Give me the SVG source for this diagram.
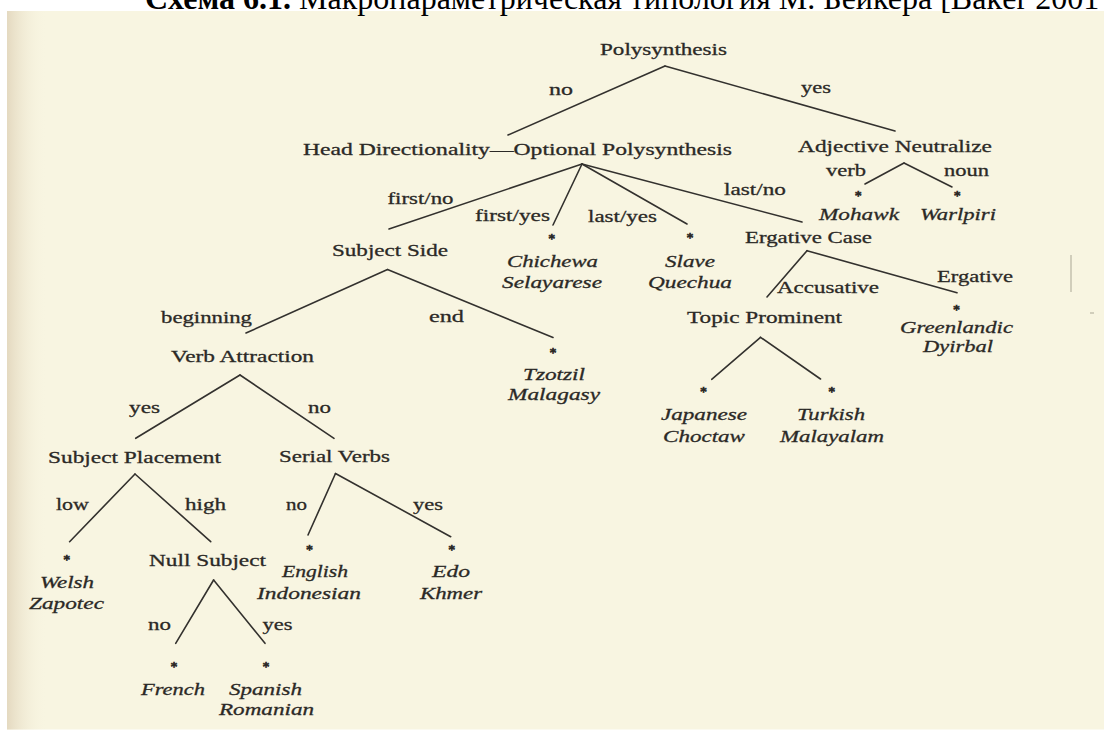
<svg xmlns="http://www.w3.org/2000/svg" width="1104" height="731" viewBox="0 0 1104 731">
<defs>
<linearGradient id="edge" x1="0" y1="0" x2="1" y2="0">
<stop offset="0" stop-color="#E4D9C0"/>
<stop offset="1" stop-color="#F8F5E1" stop-opacity="0"/>
</linearGradient>
<style>
.t{font-family:"Liberation Serif","Times New Roman",serif;font-size:17.5px;fill:#2b2926;stroke:#2b2926;stroke-width:0.3}
.i{font-style:italic}
.a{font-family:"Liberation Serif","Times New Roman",serif;font-size:14px;fill:#2b2926;stroke:#2b2926;stroke-width:0.7;text-anchor:middle}
.c{font-family:"Liberation Serif","Times New Roman",serif;font-size:32px;fill:#000}
#connectors line{stroke:#33312e;stroke-width:1.6;stroke-linecap:round}
</style>
</defs>
<rect width="1104" height="731" fill="#ffffff"/>
<rect x="7" y="11" width="1097" height="718.5" fill="#F8F5E1"/>
<rect x="7" y="11" width="40" height="718.5" fill="url(#edge)"/>
<line x1="1071" y1="255" x2="1071" y2="292" stroke="#C4C0AE" stroke-width="1.5"/>
<line x1="1090" y1="313" x2="1094" y2="313" stroke="#C4C0AE" stroke-width="1.5"/>
<text class="c" x="145" y="9"><tspan font-weight="bold">Схема 6.1.</tspan> Макропараметрическая типология М. Бейкера [Baker 2001</text>

<g id="connectors">
<line x1="665" y1="66" x2="508" y2="135"/>
<line x1="665" y1="66" x2="895" y2="131"/>
<line x1="582" y1="164" x2="389" y2="229"/>
<line x1="582" y1="164" x2="553" y2="225"/>
<line x1="582" y1="164" x2="687" y2="224"/>
<line x1="582" y1="164" x2="802" y2="222"/>
<line x1="904" y1="163" x2="865" y2="184"/>
<line x1="904" y1="163" x2="952" y2="187"/>
<line x1="387.5" y1="269.5" x2="246" y2="333"/>
<line x1="387.5" y1="269.5" x2="553" y2="337.5"/>
<line x1="807" y1="250.7" x2="767" y2="297"/>
<line x1="807" y1="250.7" x2="957" y2="292.7"/>
<line x1="760.5" y1="337.3" x2="711.7" y2="379.3"/>
<line x1="760.5" y1="337.3" x2="820.5" y2="379"/>
<line x1="240" y1="375" x2="135.7" y2="438.3"/>
<line x1="240" y1="375" x2="334" y2="438.3"/>
<line x1="135" y1="474" x2="69.6" y2="541.7"/>
<line x1="135" y1="474" x2="210.7" y2="541.7"/>
<line x1="335.5" y1="473.5" x2="308" y2="535"/>
<line x1="335.5" y1="473.5" x2="450.7" y2="536.7"/>
<line x1="213.6" y1="580" x2="175.7" y2="643.3"/>
<line x1="213.6" y1="580" x2="265" y2="643.3"/>
</g>

<g id="edge-labels">
<text class="t" x="549" y="95" textLength="24" lengthAdjust="spacingAndGlyphs">no</text>
<text class="t" x="801" y="93.3" textLength="30" lengthAdjust="spacingAndGlyphs">yes</text>
<text class="t" x="387.5" y="203.5" textLength="66" lengthAdjust="spacingAndGlyphs">first/no</text>
<text class="t" x="475" y="221" textLength="75" lengthAdjust="spacingAndGlyphs">first/yes</text>
<text class="t" x="588" y="221.7" textLength="69" lengthAdjust="spacingAndGlyphs">last/yes</text>
<text class="t" x="724" y="195" textLength="62" lengthAdjust="spacingAndGlyphs">last/no</text>
<text class="t" x="826" y="176" textLength="40" lengthAdjust="spacingAndGlyphs">verb</text>
<text class="t" x="944" y="176" textLength="45" lengthAdjust="spacingAndGlyphs">noun</text>
<text class="t" x="161" y="323.3" textLength="91" lengthAdjust="spacingAndGlyphs">beginning</text>
<text class="t" x="429" y="321.7" textLength="35" lengthAdjust="spacingAndGlyphs">end</text>
<text class="t" x="777" y="293.3" textLength="102" lengthAdjust="spacingAndGlyphs">Accusative</text>
<text class="t" x="937" y="281.7" textLength="76" lengthAdjust="spacingAndGlyphs">Ergative</text>
<text class="t" x="129" y="413.3" textLength="31" lengthAdjust="spacingAndGlyphs">yes</text>
<text class="t" x="308" y="413.3" textLength="23" lengthAdjust="spacingAndGlyphs">no</text>
<text class="t" x="56" y="510" textLength="33" lengthAdjust="spacingAndGlyphs">low</text>
<text class="t" x="185" y="510" textLength="41" lengthAdjust="spacingAndGlyphs">high</text>
<text class="t" x="286" y="510" textLength="21" lengthAdjust="spacingAndGlyphs">no</text>
<text class="t" x="413" y="510" textLength="30" lengthAdjust="spacingAndGlyphs">yes</text>
<text class="t" x="148" y="630" textLength="23" lengthAdjust="spacingAndGlyphs">no</text>
<text class="t" x="262.5" y="630" textLength="30" lengthAdjust="spacingAndGlyphs">yes</text>
</g>

<g id="polysynthesis"><text class="t" x="600" y="55" textLength="127" lengthAdjust="spacingAndGlyphs">Polysynthesis</text></g>
<g id="head-directionality"><text class="t" x="303" y="155" textLength="429" lengthAdjust="spacingAndGlyphs">Head Directionality—Optional Polysynthesis</text></g>
<g id="adjective-neutralize"><text class="t" x="798" y="151.7" textLength="194" lengthAdjust="spacingAndGlyphs">Adjective Neutralize</text></g>
<g id="subject-side"><text class="t" x="332" y="256" textLength="116" lengthAdjust="spacingAndGlyphs">Subject Side</text></g>
<g id="ergative-case"><text class="t" x="745" y="242.5" textLength="127" lengthAdjust="spacingAndGlyphs">Ergative Case</text></g>
<g id="topic-prominent"><text class="t" x="687" y="323.3" textLength="155" lengthAdjust="spacingAndGlyphs">Topic Prominent</text></g>
<g id="verb-attraction"><text class="t" x="171" y="361.7" textLength="143" lengthAdjust="spacingAndGlyphs">Verb Attraction</text></g>
<g id="subject-placement"><text class="t" x="48" y="463.3" textLength="173" lengthAdjust="spacingAndGlyphs">Subject Placement</text></g>
<g id="serial-verbs"><text class="t" x="279" y="462" textLength="111" lengthAdjust="spacingAndGlyphs">Serial Verbs</text></g>
<g id="null-subject"><text class="t" x="149" y="565.5" textLength="117" lengthAdjust="spacingAndGlyphs">Null Subject</text></g>

<g id="leaf-mohawk"><text class="a" x="858.3" y="201">*</text><text class="t i" x="819" y="220" textLength="80" lengthAdjust="spacingAndGlyphs">Mohawk</text></g>
<g id="leaf-warlpiri"><text class="a" x="957.3" y="201">*</text><text class="t i" x="920" y="220" textLength="76" lengthAdjust="spacingAndGlyphs">Warlpiri</text></g>
<g id="leaf-chichewa"><text class="a" x="551.7" y="243.7">*</text><text class="t i" x="507" y="266.7" textLength="91" lengthAdjust="spacingAndGlyphs">Chichewa</text><text class="t i" x="502" y="288.3" textLength="100" lengthAdjust="spacingAndGlyphs">Selayarese</text></g>
<g id="leaf-slave"><text class="a" x="690" y="243">*</text><text class="t i" x="665" y="266.7" textLength="50" lengthAdjust="spacingAndGlyphs">Slave</text><text class="t i" x="648" y="288.3" textLength="84" lengthAdjust="spacingAndGlyphs">Quechua</text></g>
<g id="leaf-tzotzil"><text class="a" x="553" y="358">*</text><text class="t i" x="523" y="380" textLength="62" lengthAdjust="spacingAndGlyphs">Tzotzil</text><text class="t i" x="508" y="400" textLength="92" lengthAdjust="spacingAndGlyphs">Malagasy</text></g>
<g id="leaf-greenlandic"><text class="a" x="956.5" y="314.5">*</text><text class="t i" x="900" y="333.3" textLength="113" lengthAdjust="spacingAndGlyphs">Greenlandic</text><text class="t i" x="923" y="351.7" textLength="70" lengthAdjust="spacingAndGlyphs">Dyirbal</text></g>
<g id="leaf-japanese"><text class="a" x="703.5" y="397.3">*</text><text class="t i" x="661" y="420" textLength="86" lengthAdjust="spacingAndGlyphs">Japanese</text><text class="t i" x="663" y="441.5" textLength="82" lengthAdjust="spacingAndGlyphs">Choctaw</text></g>
<g id="leaf-turkish"><text class="a" x="831.7" y="397">*</text><text class="t i" x="797" y="420" textLength="68" lengthAdjust="spacingAndGlyphs">Turkish</text><text class="t i" x="780" y="441.5" textLength="104" lengthAdjust="spacingAndGlyphs">Malayalam</text></g>
<g id="leaf-welsh"><text class="a" x="66.8" y="565.3">*</text><text class="t i" x="40" y="588.3" textLength="54" lengthAdjust="spacingAndGlyphs">Welsh</text><text class="t i" x="29" y="609" textLength="75" lengthAdjust="spacingAndGlyphs">Zapotec</text></g>
<g id="leaf-english"><text class="a" x="309.6" y="555.3">*</text><text class="t i" x="282" y="576.7" textLength="66" lengthAdjust="spacingAndGlyphs">English</text><text class="t i" x="257" y="599.3" textLength="104" lengthAdjust="spacingAndGlyphs">Indonesian</text></g>
<g id="leaf-edo"><text class="a" x="451.8" y="555.3">*</text><text class="t i" x="432" y="576.7" textLength="38" lengthAdjust="spacingAndGlyphs">Edo</text><text class="t i" x="420" y="599.3" textLength="62" lengthAdjust="spacingAndGlyphs">Khmer</text></g>
<g id="leaf-french"><text class="a" x="174" y="672">*</text><text class="t i" x="141" y="695" textLength="64" lengthAdjust="spacingAndGlyphs">French</text></g>
<g id="leaf-spanish"><text class="a" x="266" y="672">*</text><text class="t i" x="229" y="695" textLength="73" lengthAdjust="spacingAndGlyphs">Spanish</text><text class="t i" x="219" y="715" textLength="95" lengthAdjust="spacingAndGlyphs">Romanian</text></g>
</svg>
